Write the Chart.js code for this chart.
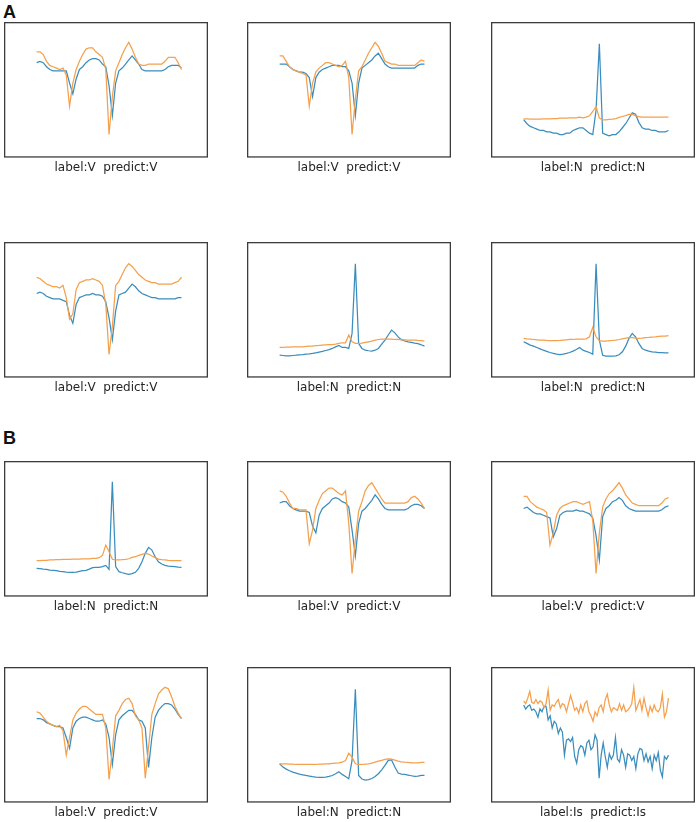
<!DOCTYPE html>
<html>
<head>
<meta charset="utf-8">
<script src="https://cdn.jsdelivr.net/npm/chart.js@4.4.1/dist/chart.umd.min.js"></script>
<style>
    body { margin: 0; background: #ffffff; }
    #page { position: relative; width: 699px; height: 822px; overflow: hidden; }
    .panel-letter {
        position: absolute; left: 3px;
        font: bold 18px "Liberation Sans", Arial, sans-serif; line-height: 1; color: #111;
    }
    .cell { position: absolute; }
</style>
</head>
<body>
<div id="page">
    <div class="panel-letter" style="top:3px">A</div>
    <div class="panel-letter" style="top:429px">B</div>
</div>
<script>
// ========== DATOS (amplitud normalizada, 0 = borde inferior, 100 = borde superior) ==========

const captions = [
    'label:V  predict:V', 'label:V  predict:V', 'label:N  predict:N',
    'label:V  predict:V', 'label:N  predict:N', 'label:N  predict:N',
    'label:N  predict:N', 'label:V  predict:V', 'label:V  predict:V',
    'label:V  predict:V', 'label:N  predict:N', 'label:Is  predict:Is'
];

// Panel A
const a1Blue   = [70,71,70,67,65,64,64,64,64,64,55,47,58,65,67,70,72,73,73,72,69,67,53,31,55,64,66,69,72,75,72,69,65,64,64,64,64,64,64,65,67,68,68,68,66];
const a1Orange = [78,78,76,71,68,67,66,65,66,61,38,55,65,71,76,80,81,81,78,76,74,65,17,45,64,70,76,81,85,80,74,69,68,68,69,69,69,69,69,71,74,74,74,70,65];

const a2Blue   = [69,69,69,67,65,64,63,63,62,59,45,59,63,65,66,67,68,68,68,67,67,64,55,31,55,66,68,70,72,75,77,73,69,67,66,66,66,66,66,66,66,66,68,69,69];
const a2Orange = [75,75,71,67,65,64,63,62,61,38,55,63,66,68,70,70,69,68,67,68,71,59,17,43,64,67,72,77,81,85,82,77,71,70,69,69,68,68,68,68,68,68,70,72,71];

const a3Blue   = [28,25,23,22,21,20,20,19,19,18,18,17,17,18,18,20,21,22,22,20,18,17,35,84,18,17,16,17,17,19,22,25,29,33,32,26,22,21,21,20,20,19,19,19,20];
const a3Orange = [28.6,28.6,28.3,28.3,28.3,28.3,28.6,28.6,28.6,28.8,28.8,29.1,29.1,29.1,29.3,29.3,29.3,29.8,29.3,29.8,30.8,34,37.7,29.1,27.8,27.8,28.1,28.3,28.8,29.6,30.3,31,31.8,32,30.8,30.3,29.8,29.8,29.8,29.8,29.8,29.8,29.8,29.8,29.8];

const a4Blue   = [62,63,62,60,59,58,58,58,57,56,46,40,54,59,60,61,61,62,61,61,60,56,44,28,49,61,62,63,66,69,67,64,62,61,60,59,59,58,58,58,58,58,58,59,59];
const a4Orange = [74,73,71,69,68,67,67,66,68,59,43,47,65,70,71,72,72,73,72,71,68,54,17,38,68,71,76,81,84,82,79,76,74,72,71,70,70,69,69,69,69,69,70,71,74];

const a5Blue   = [16.5,16.3,16,16,16.3,16.5,16.8,17,17.3,17.5,17.8,18.3,18.8,19.3,20,20.7,21.5,22.7,23.7,22.2,22.2,21.5,32.6,84,25.2,21.5,20.2,19.8,19.5,20.2,21.5,24.7,27.7,31.4,35,33,30,28,27,26.4,26,25.4,25,24.2,23.2];
const a5Orange = [22.2,22.2,22.5,22.5,22.7,22.7,22.7,22.7,23,23.2,23.2,23.5,23.7,24,24.2,24.4,24.4,24.7,25.2,25.7,25.7,31.4,26.4,25.2,25.2,25.4,25.9,26.4,26.9,27.7,28.1,28.4,28.4,28.4,28.4,28.1,28.1,27.9,27.9,27.7,27.7,27.7,27.4,27.2,26.9];

const a6Blue   = [26.4,25.2,24,23.2,22.2,21.2,20.2,19.3,18.5,17.8,17.3,17,17.3,17.8,18.5,19.5,20.7,22.2,20.2,19.3,18.5,17.3,84,27.7,16.5,15.8,15.8,15.8,16,16.8,19,23.2,28.9,32.6,30.1,25.2,21.5,20.2,19.5,19,18.8,18.5,18.5,18.3,18.3];
const a6Orange = [28.9,28.6,28.4,28.1,27.9,27.7,27.7,27.4,27.2,27.2,27.2,27.4,27.7,27.9,28.1,28.1,28.4,28.4,28.4,28.6,30.1,37,30.1,27.2,26.9,26.9,27.2,27.4,27.7,28.1,28.6,29.1,29.4,29.4,29.1,28.9,29.1,29.4,29.6,29.9,30.1,30.4,30.6,30.6,30.9];

// Panel B
const b1Blue   = [20.8,20.6,20.3,20.1,19.6,19.4,19.1,18.6,18.4,18.1,17.9,17.9,18.1,18.6,19.1,19.4,20.3,21.3,21.6,21.6,22.1,23,20.1,84.6,22.1,18.4,17.6,16.9,16.4,16.9,17.9,20.8,25.7,31.9,36.3,34.3,29.4,25.7,24,23,22.5,22.3,22.1,21.8,21.6];
const b1Orange = [26.5,26.5,26.7,26.7,27,27,27.2,27.2,27.5,27.5,27.5,27.7,27.7,27.7,27.9,27.9,27.9,28.2,28.2,28.7,30.4,38,33.1,27.5,27,27,27.2,27.5,27.9,28.9,29.4,30.4,31.1,31.9,31.4,29.9,28.7,27.7,27.2,27,26.7,26.5,26.5,26.5,26.5];

const b2Blue   = [69,70,70,67,65,64,63,63,63,62,52,47,60,65,67,69,72,73,72,70,69,66,49,30,54,63,65,68,71,75,72,68,65,64,64,64,64,64,64,65,67,68,68,67,65];
const b2Orange = [78,77,74,69,65,65,64,64,64,39,49,65,71,76,78,80,80,78,76,75,78,54,17,42,63,70,78,82,84,80,76,72,69,69,69,69,69,69,69,70,73,74,72,69,65];

const b3Blue   = [65,66,64,62,61,61,60,59,58,44,50,60,62,63,63,63,64,63,63,62,61,58,45,27,59,65,67,70,71,73,71,67,65,64,63,63,63,63,63,63,63,63,64,66,67];
const b3Orange = [74,74,70,68,66,65,64,62,38,47,60,65,67,68,69,70,70,69,68,69,70,56,17,47,66,72,76,78,81,84,80,75,72,69,68,67,67,67,67,67,67,67,69,72,73];

const b4Blue   = [62,62,61,59,58,57,56,56,55,48,40,55,60,62,63,63,62,61,60,60,61,58,48,28,50,61,64,66,68,68,65,61,60,55,26,48,63,68,71,73,73,72,69,65,62];
const b4Orange = [67,66,63,60,58,57,56,57,53,35,48,61,66,69,71,71,69,67,65,65,65,55,17,39,64,68,73,76,77,73,64,61,55,18,41,65,73,80,83,85,84,78,71,66,62];

const b5Blue   = [28.6,26.2,24.7,23.5,22.5,21.8,21,20.5,20,19.6,19.1,18.8,18.6,18.6,18.8,19.3,20,21.3,22.7,20.8,19.3,17.6,31.1,83.6,20,17.4,16.6,16.9,17.8,19.3,21.3,24.2,27.4,31.1,31.5,26.2,21.8,21,20.8,20.3,19.8,19.3,19.6,20,20];
const b5Orange = [28.6,28.6,28.6,28.4,28.4,28.1,28.1,28.1,28.1,28.1,28.1,28.1,28.4,28.4,28.6,28.6,28.9,29.1,29.3,29.8,31.1,36.4,33.5,28.6,28.1,28.1,28.4,28.6,29.1,29.8,30.6,31.1,31.8,32.3,32,31.3,30.6,30.1,29.8,29.6,29.3,29.3,29.3,29.6,29.6];

const b6Blue   = [72,69,71,72,68,69,67,63,69,67,71,71,61,64,55,60,58,51,55,52,35,46,47,45,48,34,29,39,42,41,35,44,46,39,41,50,46,18,35,44,34,26,36,32,35,48,32,30,39,35,26,36,35,31,34,25,36,40,39,31,36,30,34,25,35,31,37,24,19,34,32,35];
const b6Orange = [75,73,77,82,74,73,76,73,75,74,70,73,83,68,72,71,74,76,70,73,72,67,73,79,74,68,70,66,72,67,73,75,67,64,60,67,64,70,72,67,76,80,72,67,70,69,68,73,68,72,67,68,70,73,85,68,72,76,68,77,70,64,71,67,72,68,67,70,80,63,67,77];

const signals = [
    [a1Blue, a1Orange], [a2Blue, a2Orange], [a3Blue, a3Orange],
    [a4Blue, a4Orange], [a5Blue, a5Orange], [a6Blue, a6Orange],
    [b1Blue, b1Orange], [b2Blue, b2Orange], [b3Blue, b3Orange],
    [b4Blue, b4Orange], [b5Blue, b5Orange], [b6Blue, b6Orange]
];

// ========== LAYOUT ==========

const colLeft = [4, 247, 491];
const rowTop = [22, 242, 461, 667];
const BOX_W = 204;
const BOX_H = 136;
const BLUE = '#3a8dbd';
const ORANGE = '#f5a04c';

/**
 * Marco negro alrededor del área del gráfico
 */
const framePlugin = {
    id: 'frame',
    afterDraw(chart) {
        const { ctx, chartArea: a } = chart;
        ctx.save();
        ctx.strokeStyle = '#3c3c3c';
        ctx.lineWidth = 1.3;
        ctx.strokeRect(a.left + 0.65, a.top + 0.65, a.right - a.left - 1.3, a.bottom - a.top - 1.3);
        ctx.restore();
    }
};

function toPoints(values) {
    return values.map((v, i) => ({ x: i, y: v }));
}

/**
 * Crear un subgráfico
 */
function createPanel(idx) {
    const page = document.getElementById('page');
    const cell = document.createElement('div');
    cell.className = 'cell';
    cell.style.left = colLeft[idx % 3] + 'px';
    cell.style.top = rowTop[Math.floor(idx / 3)] + 'px';

    const canvas = document.createElement('canvas');
    canvas.width = BOX_W;
    canvas.height = BOX_H + 17;
    cell.appendChild(canvas);
    page.appendChild(cell);

    const [blue, orange] = signals[idx];
    const n = blue.length - 1;
    // la señal ocupa aprox. del 16% al 87% del ancho del marco
    const span = n / 0.71;
    const xMin = -0.16 * span;

    new Chart(canvas, {
        type: 'line',
        data: {
            datasets: [
                { data: toPoints(orange), borderColor: ORANGE, borderWidth: 1.25, pointRadius: 0, tension: 0 },
                { data: toPoints(blue), borderColor: BLUE, borderWidth: 1.25, pointRadius: 0, tension: 0 }
            ]
        },
        options: {
            responsive: false,
            animation: false,
            events: [],
            layout: { padding: 0 },
            scales: {
                x: { type: 'linear', display: false, min: xMin, max: xMin + span },
                y: { display: false, min: 0, max: 100 }
            },
            plugins: {
                legend: { display: false },
                tooltip: { enabled: false },
                title: {
                    display: true,
                    position: 'bottom',
                    text: captions[idx],
                    color: '#262626',
                    font: { family: 'DejaVu Sans', size: 12, weight: 'normal' },
                    padding: { top: 3, bottom: 0 }
                }
            }
        },
        plugins: [framePlugin]
    });
}

for (let i = 0; i < 12; i++) createPanel(i);
</script>
</body>
</html>
